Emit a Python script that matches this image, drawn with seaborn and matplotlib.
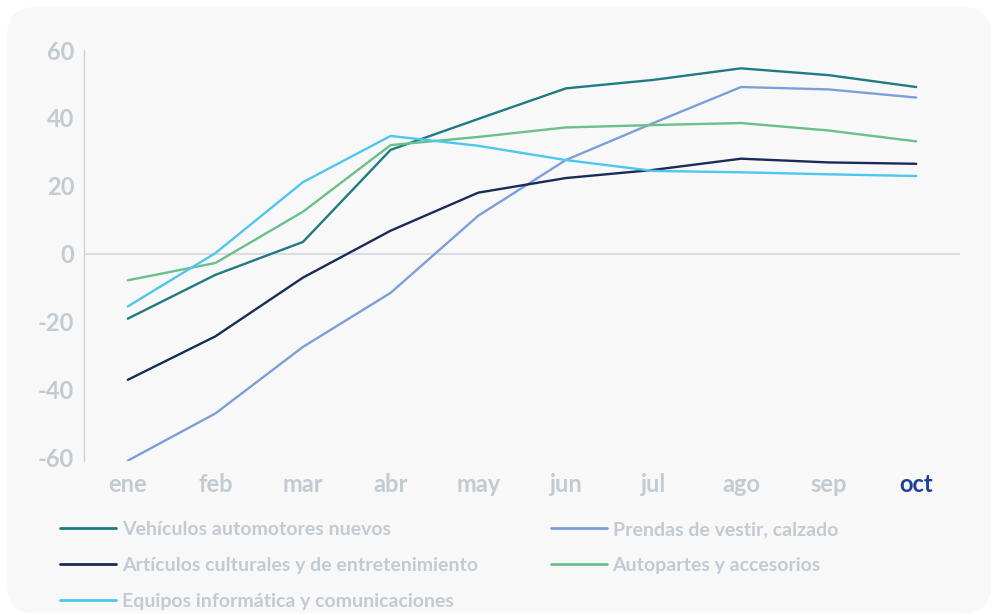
import matplotlib
matplotlib.use("Agg")
import matplotlib.pyplot as plt
from matplotlib.patches import FancyBboxPatch
from matplotlib.lines import Line2D
import seaborn as sns
import pandas as pd

months = ["ene", "feb", "mar", "abr", "may", "jun", "jul", "ago", "sep", "oct"]
vehiculos = [-19.1, -6.2, 3.5, 30.6, 39.7, 48.7, 51.2, 54.6, 52.6, 49.1]
prendas = [-60.9, -47.0, -27.4, -11.5, 11.2, 27.6, 38.5, 49.1, 48.4, 46.0]
articulos = [-37.1, -24.3, -7.0, 6.8, 18.0, 22.3, 24.7, 28.0, 26.9, 26.5]
autopartes = [-7.8, -2.7, 12.4, 32.0, 34.4, 37.2, 37.9, 38.5, 36.3, 33.1]
equipos = [-15.5, 0.2, 21.1, 34.7, 31.8, 27.6, 24.4, 24.0, 23.4, 22.9]

names = ["Vehículos automotores nuevos", "Prendas de vestir, calzado",
         "Artículos culturales y de entretenimiento", "Autopartes y accesorios",
         "Equipos informática y comunicaciones"]
series = [vehiculos, prendas, articulos, autopartes, equipos]
colors = ["#1e7b84", "#7d9fd8", "#1a2b58", "#6abf8a", "#4fc6ee"]

rows = []
for n, vals in zip(names, series):
    for i, (m, v) in enumerate(zip(months, vals)):
        rows.append({"serie": n, "idx": i, "mes": m, "valor": v})
df = pd.DataFrame(rows)

sns.set_theme(style="white")
plt.rcParams["font.family"] = ["Lato", "DejaVu Sans"]
plt.rcParams["axes.unicode_minus"] = False

fig = plt.figure(figsize=(9.92, 6.15), dpi=100, facecolor="white")

# rounded background panel
bg = fig.add_axes([0, 0, 1, 1])
bg.set_xlim(0, 992)
bg.set_ylim(615, 0)
bg.axis("off")
bg.add_patch(FancyBboxPatch((7, 7), 984, 606, boxstyle="round,pad=0,rounding_size=28",
                            facecolor="#f8f8f8", edgecolor="none"))

ax = fig.add_axes([84 / 992, 1 - 461 / 615, (960 - 84) / 992, (461 - 50) / 615])
ax.set_facecolor("none")
sns.lineplot(data=df, x="idx", y="valor", hue="serie", hue_order=names,
             palette=dict(zip(names, colors)), linewidth=1.7, ax=ax, legend=False,
             sort=False)

ax.set_xlim(-0.5, len(months) - 0.5)
ax.set_ylim(-61, 60)
ax.set_yticks([-60, -40, -20, 0, 20, 40, 60])
ax.set_xticks(range(len(months)))
ax.set_xticklabels(months)
ax.set_xlabel("")
ax.set_ylabel("")
ax.axhline(0, color="#d3d8de", linewidth=1.2, zorder=0)

for s in ["top", "right", "bottom"]:
    ax.spines[s].set_visible(False)
ax.spines["left"].set_color("#c8d3dc")
ax.spines["left"].set_linewidth(1.0)

tick_color = "#c2cad2"
ax.tick_params(axis="both", length=0, labelsize=17, labelcolor=tick_color)
ax.tick_params(axis="y", pad=7)
ax.tick_params(axis="x", pad=9)
for lab in ax.get_yticklabels() + ax.get_xticklabels():
    lab.set_fontweight("bold")
xl = ax.get_xticklabels()
xl[-1].set_color("#1f3f99")

order = [0, 2, 4, 1, 3]
handles = [Line2D([], [], color=colors[i], linewidth=2) for i in order]
labels = [names[i] for i in order]
leg = fig.legend(handles, labels, ncol=2, loc="upper left",
                 bbox_to_anchor=(60 / 992, 1 - 521 / 615), frameon=False,
                 borderpad=0, borderaxespad=0,
                 handlelength=2.88, handletextpad=0.3, columnspacing=3.75,
                 labelspacing=0.98, prop={"size": 14, "weight": "bold"})
for t in leg.get_texts():
    t.set_color(tick_color)

fig.savefig("out.png", dpi=100, facecolor="white")
